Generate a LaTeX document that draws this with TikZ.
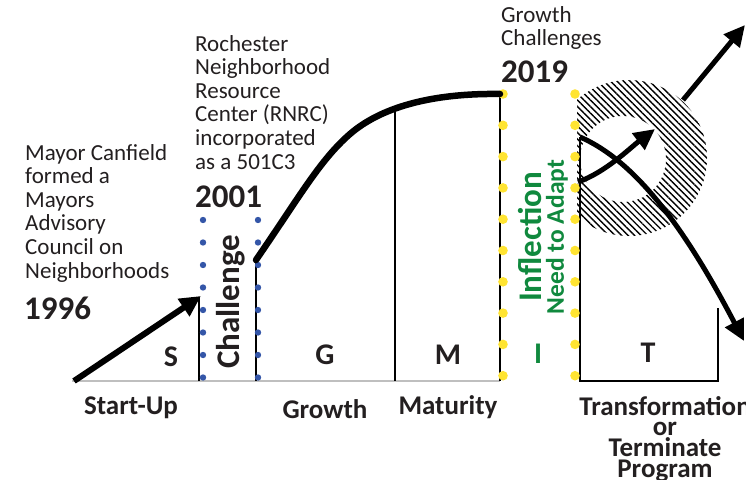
\documentclass[tikz,border=0pt]{standalone}
\usepackage{fontspec}
\setmainfont{Carlito}
\usepackage{tikz}
\usetikzlibrary{arrows.meta,patterns.meta}
\definecolor{txt}{RGB}{35,31,32}
\definecolor{dotblue}{RGB}{52,86,168}
\definecolor{dotyellow}{RGB}{255,228,50}
\definecolor{adapt}{RGB}{16,137,62}

\begin{document}
\begin{tikzpicture}[x=1pt,y=-1pt,
  note/.style={align=left,inner sep=0pt,text=txt,font=\fontsize{23}{23.6}\selectfont},
  year/.style={inner sep=0pt,text=txt,font=\fontsize{33}{35}\selectfont\bfseries},
  letter/.style={inner sep=0pt,text=txt,font=\fontsize{30}{32}\selectfont\bfseries},
  stage/.style={inner sep=0pt,text=txt,font=\fontsize{27}{29}\selectfont\bfseries},
  box/.style={black,line width=2pt},
  fat/.style={black,line width=6pt},
  head/.style={-{Triangle[length=21pt,width=20pt]}}]
\useasboundingbox (0,0) rectangle (746,479);

% baseline
\draw [black!25, line width=1.2pt] (72,381) -- (500,381);

% hatched ring
\begin{scope}
\clip (577,0) rectangle (746,479);
\fill [pattern={Lines[angle=-45,distance=4.6pt,line width=1.4pt]}, even odd rule]
  (629,158) circle [radius=78] (623,159) circle [radius=43];
\end{scope}

% stage boxes
\draw [box] (199,297) -- (199,381);
\draw [box] (256,260) -- (256,381);
\draw [box] (395,107) -- (395,381);
\draw [box] (500,93) -- (500,381);
\draw [box] (580,137) -- (580,381) -- (718,381) -- (718,308);

% dotted borders
\foreach \y in {220,242.5,265,287.5,310,332.5,355,377.5} {
  \fill [dotblue] (203,\y) circle [radius=3.2];
  \fill [dotblue] (258,\y) circle [radius=3.2];
}
\foreach \y in {94,125.3,156.6,187.9,219.2,250.5,281.8,313.1,344.4,375.7} {
  \fill [dotyellow] (503,\y) circle [radius=4.8];
  \fill [dotyellow] (575,\y) circle [radius=4.8];
}

% growth curve
\draw [fat, line width=6.5pt, line cap=round]
  (256,260) .. controls (300,196) and (320,160) .. (350,134)
  .. controls (380,108) and (430,93) .. (500,94);

% arrows
\coordinate (startA) at (74,381);
\coordinate (tipA) at (201,296);
\draw [fat, head] (startA) -- (tipA);
\coordinate (startB) at (578,182);
\coordinate (tipB) at (655,129);
\draw [fat, line width=5pt, head] (startB) .. controls (606,172) and (630,148) .. (tipB);
\coordinate (startC) at (580,137);
\coordinate (tipC) at (744,341);
\draw [fat, line width=5pt, head] (startC) .. controls (640,163) and (690,238) .. (tipC);
\coordinate (startD) at (683,100);
\coordinate (tipD) at (745,25);
\draw [fat, line width=5pt, head] (startD) -- (tipD);

% milestones
\node [note, anchor=north west] (mayor) at (25,144)
  {Mayor Canfield\\formed a\\Mayors\\Advisory\\Council on\\Neighborhoods};
\node [year, anchor=west] (y1996) at (24,308) {1996};
\node [note, anchor=north west] (rnrc) at (195,35)
  {Rochester\\Neighborhood\\Resource\\Center (RNRC)\\incorporated\\as a 501C3};
\node [year, anchor=west] (y2001) at (195,197) {2001};
\node [note, anchor=north west] (growthch) at (501,6) {Growth\\Challenges};
\node [year, anchor=west] (y2019) at (501,72) {2019};

% phase labels
\node [letter, rotate=90, font=\fontsize{33}{35}\selectfont\bfseries] (challenge) at (231,302) {Challenge};
\node [letter, rotate=90, text=adapt, font=\fontsize{33}{35}\selectfont\bfseries] (inflect) at (530,237) {Inflection};
\node [letter, rotate=90, text=adapt, font=\fontsize{25.5}{27}\selectfont\bfseries] (adaptlbl) at (557,237) {Need to Adapt};
\node [letter] (sS) at (171,357) {S};
\node [letter] (sG) at (325,355) {G};
\node [letter] (sM) at (448,355) {M};
\node [letter, text=adapt] (sI) at (538,354) {I};
\node [letter] (sT) at (648,353) {T};

% stage names
\node [stage] (startup) at (131,408) {Start-Up};
\node [stage] (growth) at (325,409) {Growth};
\node [stage] (maturity) at (448,407) {Maturity};
\node [stage, align=center, anchor=north, font=\fontsize{27}{20.8}\selectfont\bfseries] (transform) at (665,396)
  {Transformation\\or\\Terminate\\Program};
\end{tikzpicture}
\end{document}
